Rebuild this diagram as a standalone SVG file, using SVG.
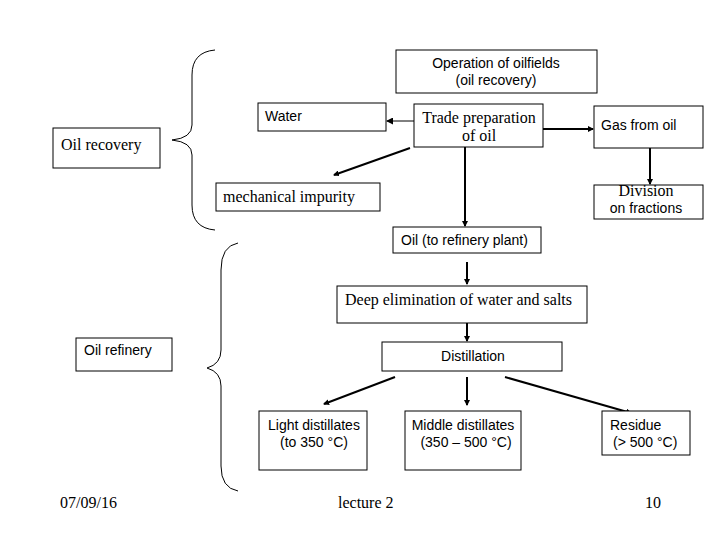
<svg xmlns="http://www.w3.org/2000/svg" width="720" height="540" viewBox="0 0 720 540">
<style>
.box{fill:#fff;stroke:#000;stroke-width:1}
.a{font-family:"Liberation Sans",Arial,sans-serif;font-size:14px;fill:#000}
.t{font-family:"Liberation Serif","Times New Roman",serif;font-size:16px;fill:#000}
.c{stroke:#000;stroke-width:2;fill:none;marker-end:url(#ah)}
.c1{stroke:#000;stroke-width:1;fill:none;marker-end:url(#ah2)}
.br{stroke:#000;stroke-width:1;fill:none}
</style>
<defs>
<marker id="ah" markerWidth="6" markerHeight="6" refX="5" refY="3" orient="auto" markerUnits="userSpaceOnUse" viewBox="0 0 6 6"><path d="M0,0 L6,3 L0,6 z" fill="#000"/></marker>
<marker id="ah2" markerWidth="7" markerHeight="7" refX="6" refY="3.5" orient="auto" markerUnits="userSpaceOnUse" viewBox="0 0 7 7"><path d="M0,0 L7,3.5 L0,7 z" fill="#000"/></marker>
</defs>
<rect width="720" height="540" fill="#fff"/>
<g id="braces">
<path class="br" d="M215,50 Q192,52 192,75 L192,125 Q192,138 172,140 Q192,142 192,155 L192,205 Q192,228 215,230"/>
<path class="br" d="M238,243 Q221,246 221,270 L221,350 Q221,364 207,368 Q221,372 221,386 L221,466 Q221,488 238,491"/>
</g>
<g id="connectors">
<line class="c1" x1="414" y1="121" x2="387" y2="121"/>
<line class="c" x1="543" y1="129" x2="593" y2="129"/>
<line class="c" x1="650" y1="148" x2="650" y2="184"/>
<line class="c" x1="410" y1="148" x2="334" y2="175"/>
<line class="c" x1="465" y1="147" x2="465" y2="226"/>
<line class="c" x1="467" y1="262" x2="467" y2="284"/>
<line class="c" x1="467" y1="323" x2="467" y2="341"/>
<line class="c" x1="395" y1="377" x2="324" y2="404"/>
<line class="c" x1="467" y1="377" x2="467" y2="405"/>
<line class="c" x1="505" y1="377" x2="631" y2="413"/>
</g>
<g id="operation"><rect class="box" x="396" y="50" width="201" height="43"/><text class="a" x="496" y="68" text-anchor="middle">Operation of oilfields</text><text class="a" x="496" y="85" text-anchor="middle">(oil recovery)</text></g>
<g id="water"><rect class="box" x="258" y="103" width="128" height="28"/><text class="a" x="265" y="121" font-size="13.5">Water</text></g>
<g id="trade"><rect class="box" x="414" y="104" width="129" height="43"/><text class="t" x="479" y="123" text-anchor="middle">Trade preparation</text><text class="t" x="479" y="141" text-anchor="middle">of oil</text></g>
<g id="gas"><rect class="box" x="594" y="106" width="109" height="42"/><text class="a" x="601" y="130">Gas from oil</text></g>
<g id="division"><rect class="box" x="594" y="185" width="109" height="34"/><text class="t" x="646" y="196" text-anchor="middle" font-size="13">Division</text><text class="a" x="646" y="213" text-anchor="middle">on fractions</text></g>
<g id="mech"><rect class="box" x="216" y="183" width="164" height="28"/><text class="t" x="223" y="202">mechanical impurity</text></g>
<g id="oilrecovery"><rect class="box" x="53" y="128" width="107" height="40"/><text class="t" x="61" y="150" font-size="19.5">Oil recovery</text></g>
<g id="oiltoref"><rect class="box" x="393" y="227" width="148" height="26"/><text class="a" x="401" y="245" font-size="12.5">Oil (to refinery plant)</text></g>
<g id="deep"><rect class="box" x="337" y="286" width="250" height="37"/><text class="t" x="345" y="305">Deep elimination of water and salts</text></g>
<g id="oilrefinery"><rect class="box" x="76" y="338" width="96" height="33"/><text class="a" x="84" y="355" font-size="13.5">Oil refinery</text></g>
<g id="distillation"><rect class="box" x="382" y="342" width="180" height="29"/><text class="a" x="473" y="361" text-anchor="middle">Distillation</text></g>
<g id="light"><rect class="box" x="259" y="411" width="108" height="59"/><text class="a" x="314" y="430" text-anchor="middle">Light distillates</text><text class="a" x="314" y="447" text-anchor="middle">(to 350 °C)</text></g>
<g id="middle"><rect class="box" x="405" y="411" width="116" height="59"/><text class="a" x="463" y="430" text-anchor="middle">Middle distillates</text><text class="a" x="466" y="447" text-anchor="middle">(350 – 500 °C)</text></g>
<g id="residue"><rect class="box" x="602" y="411" width="88" height="44"/><text class="a" x="610" y="430">Residue</text><text class="a" x="613" y="447">(&gt; 500 °C)</text></g>
<g id="footer"><text class="t" x="60" y="508" font-size="14">07/09/16</text><text class="t" x="338" y="508" font-size="14">lecture 2</text><text class="t" x="645" y="508" font-size="14">10</text></g>
</svg>
